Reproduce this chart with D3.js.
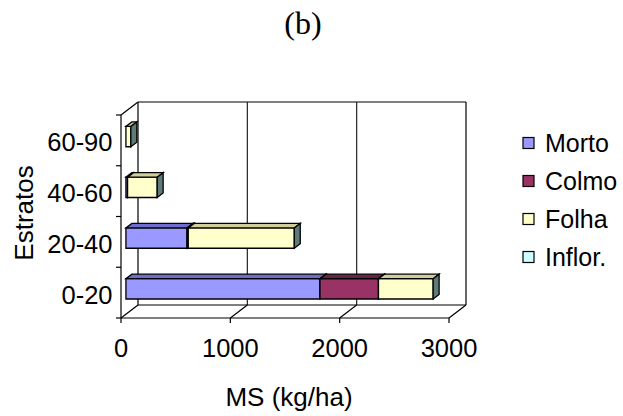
<!DOCTYPE html>
<html>
<head>
<meta charset="utf-8">
<script src="https://cdn.jsdelivr.net/npm/d3@7/dist/d3.min.js"></script>
<style>
  html, body { margin: 0; padding: 0; background: #fff; }
  svg { display: block; }
  text { font-family: "Liberation Sans", Arial, sans-serif; fill: #000; }
</style>
</head>
<body>
<svg id="chart" width="623" height="416"></svg>
<script>
// Strata (soil layers) and dry matter per component, kg/ha
const categories = ["0-20", "20-40", "40-60", "60-90"];
const seriesNames = ["Morto", "Colmo", "Folha", "Inflor."];
const morto  = [1775, 560, 15, 0];
const colmo  = [535, 10, 0, 0];
const folha  = [500, 970, 271, 45];
const inflor = [0, 0, 0, 0];
const xTicks = [0, 1000, 2000, 3000];

const fronts = ["#9999ff", "#993366", "#ffffcc", "#ccffff"];
const tops   = ["#6d6dd0", "#6a2347", "#cfcf9c", "#99cccc"];
const sides  = ["#4f4f99", "#4a1830", "#5f7b79", "#5f8080"];

const svg = d3.select("#chart");
svg.append("rect").attr("width", 623).attr("height", 416).attr("fill", "#fff");

// plot box: front plane and the depth offset of the back wall
const floorY = 318, topY = 115;
const DX = 17, DY = -13;
const x = d3.scaleLinear().domain([0, 3000]).range([121, 449]);
const y = d3.scaleBand().domain(categories).range([floorY, topY])
  .paddingInner(0.6).paddingOuter(0.3);
const P = (px, py, z) => [px + z * DX, py + z * DY];

const rows = categories.map((c, i) => ({
  cat: c, "Morto": morto[i], "Colmo": colmo[i], "Folha": folha[i], "Inflor.": inflor[i]
}));
const stacked = d3.stack().keys(seriesNames)(rows);

const line = d3.line();
const frame = svg.append("g").attr("fill", "none").attr("stroke", "#000").attr("stroke-width", 1.2);
const seg = (a, b, col) => frame.append("path").attr("d", line([a, b])).attr("stroke", col || "#000");

// back wall outline and vertical gridlines
seg(P(x(0), topY, 1), P(x(3000), topY, 1));
seg(P(x(3000), topY, 1), P(x(3000), floorY, 1));
seg(P(x(0), topY, 1), P(x(0), floorY, 1));
xTicks.slice(1, -1).forEach(v => seg(P(x(v), topY, 1), P(x(v), floorY, 1), "#222"));
// floor
seg(P(x(0), floorY, 1), P(x(3000), floorY, 1));
seg(P(x(0), floorY, 0), P(x(3000), floorY, 0));
xTicks.forEach(v => seg(P(x(v), floorY, 0), P(x(v), floorY, 1)));
// side wall
seg(P(x(0), floorY, 0), P(x(0), topY, 0));
seg(P(x(0), topY, 0), P(x(0), topY, 1));

// axis ticks
xTicks.forEach(v => seg([x(v), floorY], [x(v), floorY + 5]));
const bounds = categories.map(c => y(c) + y.bandwidth() / 2 + y.step() / 2).concat([topY]);
bounds.forEach(b => seg([x(0) - 5, b], [x(0), b]));

// 3D stacked bars
const z0 = 0.29, z1 = 0.64;
const bars = svg.append("g").attr("stroke", "#000").attr("stroke-width", 1.3)
  .attr("stroke-linejoin", "miter");
const poly = pts => "M" + pts.map(p => p.join(",")).join("L") + "Z";
categories.forEach((c, ci) => {
  const yTop = y(c), yBot = y(c) + y.bandwidth();
  stacked.forEach((s, si) => {
    const [v0, v1] = s[ci];
    if (v1 - v0 <= 0) return;
    const xa = x(v0), xb = x(v1);
    bars.append("path").attr("fill", fronts[si])
      .attr("d", poly([P(xa, yTop, z0), P(xb, yTop, z0), P(xb, yBot, z0), P(xa, yBot, z0)]));
    bars.append("path").attr("fill", tops[si])
      .attr("d", poly([P(xa, yTop, z0), P(xb, yTop, z0), P(xb, yTop, z1), P(xa, yTop, z1)]));
    bars.append("path").attr("fill", sides[si])
      .attr("d", poly([P(xb, yTop, z0), P(xb, yTop, z1), P(xb, yBot, z1), P(xb, yBot, z0)]));
  });
});

// labels
svg.append("text").attr("x", 303).attr("y", 34).attr("text-anchor", "middle")
  .style("font-family", "'Liberation Serif', 'Times New Roman', serif").style("font-size", "32px")
  .text("(b)");

svg.append("g").selectAll("text").data(xTicks).join("text")
  .attr("x", d => x(d)).attr("y", 356.5).attr("text-anchor", "middle")
  .style("font-size", "25.5px").text(d => d);

svg.append("g").selectAll("text").data(categories).join("text")
  .attr("x", 112.5).attr("y", d => y(d) + y.bandwidth() / 2 + 11).attr("text-anchor", "end")
  .style("font-size", "25.5px").text(d => d);

svg.append("text").attr("x", 289).attr("y", 406).attr("text-anchor", "middle")
  .style("font-size", "26px").text("MS (kg/ha)");

svg.append("text").attr("transform", "translate(32.5,213) rotate(-90)").attr("text-anchor", "middle")
  .style("font-size", "26px").text("Estratos");

// legend
const legend = svg.append("g");
seriesNames.forEach((n, i) => {
  const cy = 143 + i * 38;
  legend.append("rect").attr("x", 523).attr("y", cy - 5.5).attr("width", 11).attr("height", 11)
    .attr("fill", fronts[i]).attr("stroke", "#000").attr("stroke-width", 1.2);
  legend.append("text").attr("x", 545).attr("y", cy + 9).style("font-size", "25px").text(n);
});
</script>
</body>
</html>
